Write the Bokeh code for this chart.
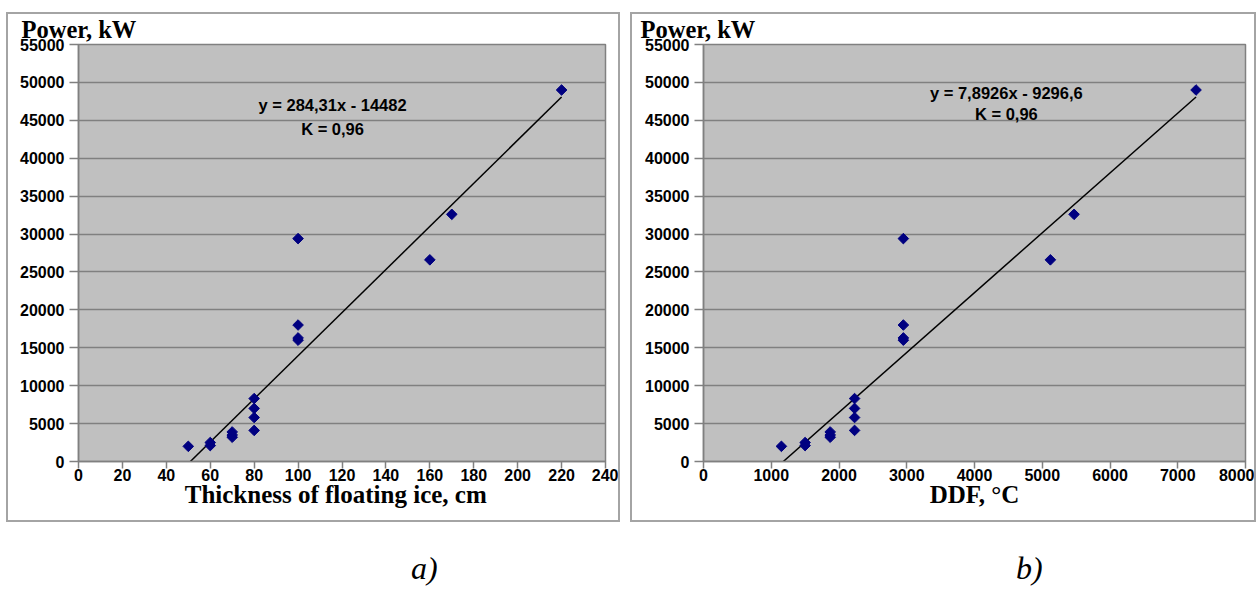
import math
from bokeh.plotting import figure
from bokeh.models import Label, Range1d, FixedTicker, Spacer, Div
from bokeh.layouts import row, column
from bokeh.embed import file_html
from bokeh.resources import INLINE

# ---- data ----
thickness_cm = [50, 60, 60, 70, 70, 70, 80, 80, 80, 80, 100, 100, 100, 100, 160, 170, 220]
ddf_c = [1150, 1500, 1500, 1870, 1870, 1870, 2230, 2230, 2230, 2230,
         2950, 2950, 2950, 2950, 5120, 5470, 7270]
power_kw = [2000, 2500, 2100, 3900, 3500, 3200, 8300, 7000, 5800, 4100,
            29400, 18000, 16300, 16000, 26600, 32600, 49000]

fit_a = (284.31, -14482.0)
fit_b = (7.8926, -9296.6)
eq_a = ["y = 284,31x - 14482", "K = 0,96"]
eq_b = ["y = 7,8926x - 9296,6", "K = 0,96"]

x_ticks_a = list(range(0, 241, 20))
x_ticks_b = list(range(0, 8001, 1000))
y_ticks = list(range(0, 55001, 5000))

y_title = "Power,  kW"
x_title_a = "Thickness  of floating  ice, cm"
x_title_b = "DDF, °C"
captions = ["a)", "b)"]

SANS = "Liberation Sans"
SERIF = "Liberation Serif"
GRAY = "#808080"


def panel(xs, fit, xmax, xticks, xtitle, eqs, eq_x, eq_y, k_y,
          frame_w, b_left, b_right, title_offset):
    p = figure(output_backend="svg", toolbar_location=None,
               frame_width=frame_w, frame_height=413,
               min_border_left=b_left, min_border_right=b_right,
               min_border_top=30, min_border_bottom=63,
               x_range=Range1d(0, xmax), y_range=Range1d(0, 55000),
               background_fill_color="#c0c0c0", border_fill_color="white",
               styles={"border": "2px solid #a4a4a4"})
    p.title.text = y_title
    p.title.align = "left"
    p.title.vertical_align = "top"
    p.title.offset = title_offset
    p.title.standoff = 0
    p.title.text_font = SERIF
    p.title.text_font_style = "bold"
    p.title.text_font_size = "24.5px"
    p.title.text_color = "black"

    p.outline_line_color = GRAY
    p.outline_line_width = 1.5
    p.xgrid.visible = False
    p.ygrid.grid_line_color = GRAY
    p.ygrid.grid_line_width = 1.5
    p.ygrid.ticker = FixedTicker(ticks=y_ticks)
    for ax, ticks in ((p.xaxis, xticks), (p.yaxis, y_ticks)):
        ax.ticker = FixedTicker(ticks=ticks)
        ax.axis_line_color = GRAY
        ax.axis_line_width = 1.5
        ax.major_tick_line_color = GRAY
        ax.major_tick_line_width = 1.5
        ax.major_tick_in = 0
        ax.minor_tick_line_color = None
        ax.major_label_text_font = SANS
        ax.major_label_text_font_style = "bold"
        ax.major_label_text_font_size = "16px"
        ax.major_label_text_color = "black"
    p.xaxis.major_tick_out = 7
    p.xaxis.major_label_standoff = 0
    p.yaxis.major_tick_out = 9
    p.yaxis.major_label_standoff = 5
    p.xaxis.axis_label = xtitle
    p.xaxis.axis_label_text_font = SERIF
    p.xaxis.axis_label_text_font_style = "bold"
    p.xaxis.axis_label_text_font_size = "25px"
    p.xaxis.axis_label_text_color = "black"
    p.xaxis.axis_label_standoff = -3

    slope, inter = fit
    x0 = -inter / slope
    x1 = max(xs)
    p.line([x0, x1], [slope * x0 + inter, slope * x1 + inter],
           line_color="black", line_width=1.5)
    p.scatter(xs, power_kw, marker="square", size=7.5, angle=math.pi / 4,
              fill_color="#000080", line_color="#000080", line_width=1)

    for txt, yy in ((eqs[0], eq_y), (eqs[1], k_y)):
        p.add_layout(Label(x=eq_x, y=yy, text=txt, text_align="center",
                           text_baseline="middle", text_font=SANS,
                           text_font_style="bold", text_font_size="16.5px",
                           text_color="black"))
    return p


pa = panel(thickness_cm, fit_a, 240, x_ticks_a, x_title_a, eq_a,
           115.7, 47010, 43810, 523, 70, 17, -57)
pb = panel(ddf_c, fit_b, 8000, x_ticks_b, x_title_b, eq_b,
           4470, 48610, 45810, 538, 71, 13, -63)

cap_style = {"font-family": SERIF, "font-style": "italic", "font-size": "32px",
             "line-height": "32px", "overflow": "visible", "color": "black"}
cap_a = Div(text=captions[0], width=40, height=16, styles=cap_style)
cap_b = Div(text=captions[1], width=40, height=16, styles=cap_style)

layout = column(Spacer(height=12),
                row(Spacer(width=6), pa, Spacer(width=10), pb),
                Spacer(height=25),
                row(Spacer(width=406), cap_a, Spacer(width=555), cap_b))

open("out.html", "w").write(file_html(layout, INLINE))
